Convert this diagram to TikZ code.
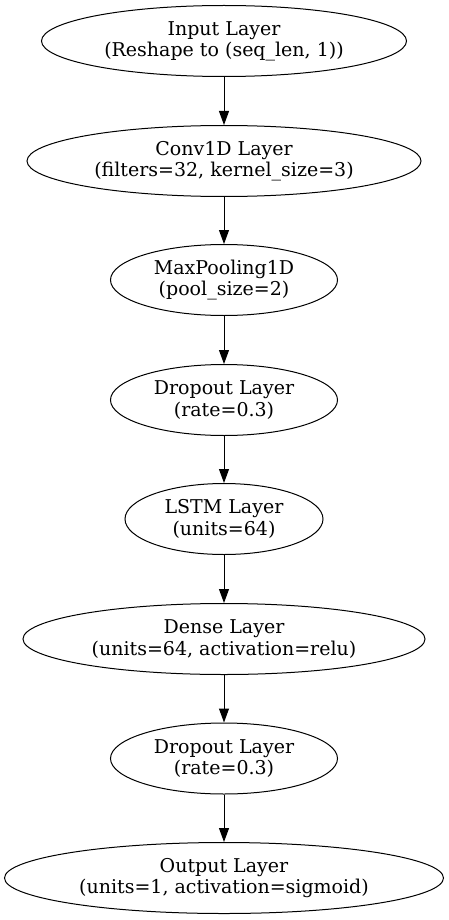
\documentclass[tikz,border=0pt]{standalone}
\usepackage{fontspec}
\setmainfont{DejaVu Serif}
\usetikzlibrary{shapes.geometric,arrows.meta}
\begin{document}
\begin{tikzpicture}[x=1pt,y=1pt,
  layer/.style={ellipse,draw=black,line width=1pt,inner sep=0pt,minimum height=71pt,align=center,
    font=\fontsize{19}{21.3}\selectfont},
  conn/.style={line width=1pt,-{Triangle[length=14pt,width=10pt]}}]
\useasboundingbox (0,0) rectangle (448,-920);
\node[layer,minimum width=365pt] (in) at (224,-41) {Input Layer\\(Reshape to (seq\_len, 1))};
\node[layer,minimum width=394pt] (conv) at (224,-161) {Conv1D Layer\\(filters=32, kernel\_size=3)};
\node[layer,minimum width=227pt] (pool) at (224,-280) {MaxPooling1D\\(pool\_size=2)};
\node[layer,minimum width=227pt] (drop1) at (224,-400) {Dropout Layer\\(rate=0.3)};
\node[layer,minimum width=198pt] (lstm) at (224,-519) {LSTM Layer\\(units=64)};
\node[layer,minimum width=402pt] (dense) at (224,-639) {Dense Layer\\(units=64, activation=relu)};
\node[layer,minimum width=227pt] (drop2) at (224,-758.5) {Dropout Layer\\(rate=0.3)};
\node[layer,minimum width=439pt] (out) at (224,-878) {Output Layer\\(units=1, activation=sigmoid)};
\draw[conn] (in) -- (conv);
\draw[conn] (conv) -- (pool);
\draw[conn] (pool) -- (drop1);
\draw[conn] (drop1) -- (lstm);
\draw[conn] (lstm) -- (dense);
\draw[conn] (dense) -- (drop2);
\draw[conn] (drop2) -- (out);
\end{tikzpicture}
\end{document}
